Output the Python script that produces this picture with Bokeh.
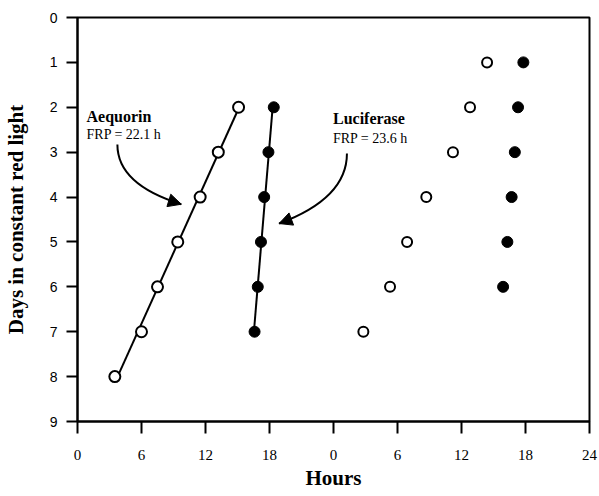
import numpy as np
from bokeh.plotting import figure
from bokeh.models import Range1d, FixedTicker, Arrow, NormalHead, Label
from bokeh.embed import file_html
from bokeh.resources import INLINE

# ---- data ----
aeq_days = [2, 3, 4, 5, 6, 7, 8]
aeq_hours = [15.1, 13.2, 11.5, 9.4, 7.5, 6.0, 3.5]
luc_days = [2, 3, 4, 5, 6, 7]
luc_hours = [18.4, 17.9, 17.5, 17.2, 16.9, 16.6]
aeq2_days = [1, 2, 3, 4, 5, 6, 7]
aeq2_hours = [14.4, 12.8, 11.2, 8.7, 6.9, 5.3, 2.8]   # second 24 h panel
luc2_days = [1, 2, 3, 4, 5, 6]
luc2_hours = [17.8, 17.3, 17.0, 16.7, 16.3, 15.9]   # second 24 h panel
x_ticks = [0, 6, 12, 18, 24, 30, 36, 42, 48]
x_tick_labels = ["0", "6", "12", "18", "0", "6", "12", "18", "24"]
y_ticks = [0, 1, 2, 3, 4, 5, 6, 7, 8, 9]

PANEL_OFFSET = 24

p = figure(width=599, height=496, output_backend="svg", toolbar_location=None,
           x_range=Range1d(0, 48), y_range=Range1d(9, 0),
           min_border_left=76, min_border_top=17, min_border_right=10, min_border_bottom=75)
p.background_fill_color = "white"
p.border_fill_color = "white"
p.xgrid.visible = False
p.ygrid.visible = False
p.outline_line_color = "black"
p.outline_line_width = 2

serif = "Liberation Serif"
sans = "Liberation Sans"

# axes
p.xaxis.ticker = FixedTicker(ticks=x_ticks)
p.xaxis.major_label_overrides = {t: l for t, l in zip(x_ticks, x_tick_labels)}
p.yaxis.ticker = FixedTicker(ticks=y_ticks)
for ax in (p.xaxis, p.yaxis):
    ax.axis_line_color = "black"
    ax.axis_line_width = 2
    ax.major_tick_line_color = "black"
    ax.major_tick_line_width = 2
    ax.major_tick_in = 0
    ax.minor_tick_line_color = None
    ax.major_label_text_color = "black"
    ax.axis_label_text_color = "black"
    ax.axis_label_text_font = serif
    ax.axis_label_text_font_style = "bold"
    ax.axis_label_text_font_size = "21px"
p.xaxis.major_tick_out = 12
p.yaxis.major_tick_out = 11
p.xaxis.major_label_text_font = serif
p.xaxis.major_label_text_font_size = "15px"
p.xaxis.major_label_standoff = 16
p.yaxis.major_label_text_font = sans
p.yaxis.major_label_text_font_size = "14px"
p.yaxis.major_label_standoff = 9
p.xaxis.axis_label = "Hours"
p.yaxis.axis_label = "Days in constant red light"
p.xaxis.axis_label_standoff = 3
p.yaxis.axis_label_standoff = 19

# fit lines (least squares through the left-panel data)
for days, hours in ((aeq_days, aeq_hours), (luc_days, luc_hours)):
    k, b = np.polyfit(days, hours, 1)
    d0, d1 = min(days), max(days)
    p.line([k * d0 + b, k * d1 + b], [d0, d1], line_color="black", line_width=2)

# points
p.scatter(aeq_hours, aeq_days, size=11, marker="circle", fill_color="white",
          line_color="black", line_width=2)
p.scatter(luc_hours, luc_days, size=11, marker="circle", fill_color="black",
          line_color="black", line_width=1)
p.scatter([h + PANEL_OFFSET for h in aeq2_hours], aeq2_days, size=10, marker="circle",
          fill_color="white", line_color="black", line_width=2)
p.scatter([h + PANEL_OFFSET for h in luc2_hours], luc2_days, size=11, marker="circle",
          fill_color="black", line_color="black", line_width=1)

# annotations
p.add_layout(Label(x=0.85, y=2.2, text="Aequorin", text_font=serif, text_font_style="bold",
                   text_font_size="16px", text_baseline="middle", text_color="black"))
p.add_layout(Label(x=0.85, y=2.6, text="FRP = 22.1 h", text_font=serif,
                   text_font_size="14px", text_baseline="middle", text_color="black"))
p.add_layout(Label(x=23.95, y=2.25, text="Luciferase", text_font=serif, text_font_style="bold",
                   text_font_size="16px", text_baseline="middle", text_color="black"))
p.add_layout(Label(x=23.95, y=2.69, text="FRP = 23.6 h", text_font=serif,
                   text_font_size="14px", text_baseline="middle", text_color="black"))

curves = [
    # (x0, y0, cx, cy, x1, y1)
    (3.74, 2.83, 3.74, 3.72, 9.73, 4.16),
    (25.26, 3.03, 25.26, 4.03, 18.9, 4.59),
]
for x0, y0, cx, cy, x1, y1 in curves:
    p.quadratic(x0=[x0], y0=[y0], x1=[x1], y1=[y1], cx=[cx], cy=[cy],
                line_color="black", line_width=2)
    sx, sy = x1 - 0.08 * (x1 - cx), y1 - 0.08 * (y1 - cy)
    p.add_layout(Arrow(end=NormalHead(size=13, fill_color="black", line_color="black"),
                       x_start=sx, y_start=sy, x_end=x1, y_end=y1,
                       line_color="black", line_width=2))

open("out.html", "w").write(file_html(p, INLINE))
